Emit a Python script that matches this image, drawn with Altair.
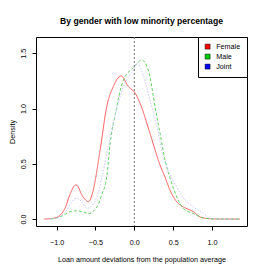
import altair as alt
import pandas as pd

series_names = ["Female", "Male", "Joint"]

female_x = [-1.16, -1.02, -0.89, -0.83, -0.75, -0.66, -0.59, -0.54, -0.44, -0.355, -0.27, -0.17,
            -0.077, 0.01, 0.073, 0.20, 0.33, 0.395, 0.46, 0.545, 0.63, 0.76, 0.845, 0.97, 1.15, 1.36]
female_y = [0.0, 0.01, 0.10, 0.22, 0.31, 0.20, 0.157, 0.23, 0.625, 1.017, 1.20, 1.295,
            1.20, 1.14, 1.05, 0.78, 0.49, 0.38, 0.26, 0.157, 0.11, 0.066, 0.02, 0.003, 0.0, 0.0]

male_x = [-1.08, -1.0, -0.91, -0.83, -0.74, -0.66, -0.59, -0.48, -0.42, -0.355, -0.31, -0.25,
          -0.14, -0.01, 0.095, 0.18, 0.224, 0.266, 0.33, 0.395, 0.46, 0.566, 0.63, 0.76, 0.89, 1.05, 1.36]
male_y = [0.0, 0.01, 0.035, 0.066, 0.075, 0.065, 0.05, 0.11, 0.22, 0.38, 0.69, 0.93,
          1.26, 1.37, 1.44, 1.35, 1.20, 1.02, 0.78, 0.535, 0.37, 0.17, 0.097, 0.05, 0.01, 0.0, 0.0]

joint_x = [-1.12, -1.0, -0.87, -0.81, -0.74, -0.67, -0.61, -0.48, -0.42, -0.335, -0.25, -0.14,
           -0.01, 0.04, 0.116, 0.2, 0.29, 0.373, 0.46, 0.545, 0.63, 0.76, 0.89, 0.97, 1.1, 1.36]
joint_y = [0.0, 0.01, 0.08, 0.15, 0.19, 0.15, 0.097, 0.2, 0.37, 0.655, 0.93, 1.20,
           1.35, 1.41, 1.30, 1.08, 0.84, 0.564, 0.40, 0.29, 0.19, 0.11, 0.05, 0.01, 0.0, 0.0]

x_ticks = [-1.0, -0.5, 0.0, 0.5, 1.0]
y_ticks = [0.0, 0.5, 1.0, 1.5]

line_colors = {"Female": "#ff5a5a", "Male": "#5fd35f", "Joint": "#c8c8ff"}
line_dashes = {"Female": [1, 0], "Male": [3, 2], "Joint": [1.5, 1.5]}
legend_colors = ["#ff0000", "#00cd00", "#0000ff"]

FONT = "Liberation Sans"

frames = []
for name, xs, ys in [("Female", female_x, female_y), ("Male", male_x, male_y), ("Joint", joint_x, joint_y)]:
    frames.append(pd.DataFrame({"x": xs, "y": ys, "series": name, "order": range(len(xs))}))
df = pd.concat(frames, ignore_index=True)

xscale = alt.Scale(domain=[-1.265, 1.45], nice=False, zero=False)
yscale = alt.Scale(domain=[-0.063, 1.648], nice=False, zero=False)

xaxis = alt.Axis(values=x_ticks, format=".1f", title="Loan amount deviations from the population average",
                 grid=False, domain=False, tickSize=4, tickColor="black", labelPadding=8,
                 labelBaseline="top", labelFontSize=7.2, labelFont=FONT, labelColor="black",
                 titleFontSize=7.2, titleFont=FONT, titleFontWeight="normal", titleColor="black",
                 titleY=35.5, titleBaseline="alphabetic", labelFlush=False)
yaxis = alt.Axis(values=y_ticks, format=".1f", title="Density", grid=False, domain=False,
                 tickSize=4, tickColor="black", labelPadding=9, labelAngle=-90,
                 labelAlign="center", labelBaseline="middle", labelFontSize=7.2, labelFont=FONT,
                 labelColor="black", titleFontSize=7.2, titleFont=FONT, titleFontWeight="normal",
                 titleColor="black", titleAngle=-90, titleX=-24, titleY=94.5,
                 titleAlign="center", titleBaseline="middle", labelFlush=False)

X = alt.X("x:Q", scale=xscale, axis=xaxis)
Y = alt.Y("y:Q", scale=yscale, axis=yaxis)

layers = []
for name in series_names:
    layers.append(
        alt.Chart(df).transform_filter(alt.datum.series == name)
        .mark_line(color=line_colors[name], strokeDash=line_dashes[name], strokeWidth=1,
                   interpolate="monotone")
        .encode(x=X, y=Y, order="order:Q")
    )

rule = alt.Chart(pd.DataFrame({"x": [0.0]})).mark_rule(
    color="#707070", strokeDash=[2, 2], strokeWidth=1
).encode(x=X)

legend_df = pd.DataFrame({"series": series_names, "x": [0.0] * 3, "y": [0.0] * 3})
legend_layer = alt.Chart(legend_df).mark_point(filled=True, opacity=0).encode(
    x=X,
    y=Y,
    fill=alt.Fill("series:N", scale=alt.Scale(domain=series_names, range=legend_colors),
                  legend=alt.Legend(title=None, orient="top-right", offset=0, padding=6,
                                    strokeColor="black", fillColor="white",
                                    symbolType="square", symbolSize=25, symbolOpacity=1,
                                    symbolStrokeColor="black", symbolStrokeWidth=0.5,
                                    labelFontSize=7.2, labelFont=FONT, labelColor="black",
                                    labelOffset=5, rowPadding=1)),
)

chart = alt.layer(*layers, rule, legend_layer).properties(
    width=211, height=189,
    title=alt.TitleParams("By gender with low minority percentage", fontSize=8.6,
                          fontWeight="bold", font=FONT, anchor="middle", offset=4,
                          baseline="alphabetic", color="black", frame="group"),
    autosize=alt.AutoSizeParams(type="none"),
    padding={"left": 28, "top": 29, "right": 11, "bottom": 39},
    background="white",
).configure_view(stroke="black", strokeWidth=1).configure_axis(titleColor="black", labelColor="black")

chart.save("out.html", embed_options={"renderer": "svg", "actions": False})
